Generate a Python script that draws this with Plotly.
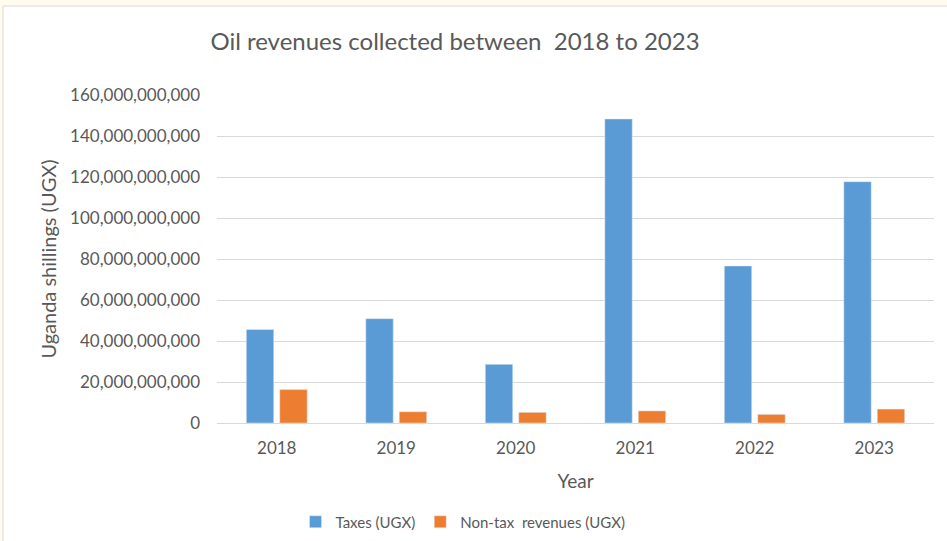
import plotly.graph_objects as go

years = ["2018", "2019", "2020", "2021", "2022", "2023"]
taxes = [45.6e9, 50.9e9, 28.6e9, 148.3e9, 76.6e9, 117.7e9]
non_tax = [16.3e9, 5.5e9, 5.2e9, 5.9e9, 4.2e9, 6.8e9]
y_ticks = [0, 20e9, 40e9, 60e9, 80e9, 100e9, 120e9, 140e9, 160e9]
y_tick_text = ["0", "20,000,000,000", "40,000,000,000", "60,000,000,000",
               "80,000,000,000", "100,000,000,000", "120,000,000,000",
               "140,000,000,000", "160,000,000,000"]

W, H = 947, 541
L, R, T, B = 217, 13, 95, 118
pw = W - L - R
ph = H - T - B

font_fam = "Lato, 'Open Sans', sans-serif"
gray = "#595959"

fig = go.Figure()
fig.add_trace(go.Bar(x=years, y=taxes, name="Taxes (UGX)", marker_color="#5B9BD5"))
fig.add_trace(go.Bar(x=years, y=non_tax, name="Non-tax  revenues (UGX)", marker_color="#ED7D31"))

# white chart area on a cream page
fig.add_shape(type="rect", xref="paper", yref="paper",
              x0=(3 - L) / pw, x1=(W + 5 - L) / pw,
              y0=(H - B - (H + 5)) / ph, y1=(H - B - 6) / ph,
              fillcolor="white", line=dict(color="#D9D9D9", width=1), layer="below")

fig.update_layout(
    width=W, height=H,
    margin=dict(l=L, r=R, t=T, b=B),
    paper_bgcolor="#FFFCEE",
    plot_bgcolor="rgba(0,0,0,0)",
    barmode="group",
    bargap=0.44,
    bargroupgap=0.18,
    font=dict(family=font_fam, color=gray, size=16),
    title=dict(text="Oil revenues collected between  2018 to 2023",
               x=455 / W, xanchor="center", y=1 - 42 / H, yanchor="middle",
               font=dict(size=24, color=gray, family=font_fam)),
    xaxis=dict(title=dict(text="Year", font=dict(size=19, color=gray), standoff=17),
               showline=True, linecolor="#D9D9D9", linewidth=1,
               tickfont=dict(size=17, color=gray), ticks="", showgrid=False,
               ticklabelstandoff=10),
    yaxis=dict(title=dict(text="Uganda shillings (UGX)", font=dict(size=20, color=gray), standoff=8),
               range=[0, 160e9], tickvals=y_ticks, ticktext=y_tick_text,
               tickfont=dict(size=17, color=gray),
               showgrid=True, gridcolor="#D9D9D9", gridwidth=1,
               zeroline=False, showline=False, ticks="", ticklabelstandoff=16),
    legend=dict(orientation="h", x=463 / W, xref="container", xanchor="center",
                y=1 - 522 / H, yref="container", yanchor="middle",
                font=dict(size=15, color=gray), bgcolor="rgba(0,0,0,0)",
                itemwidth=30, traceorder="normal"),
    showlegend=True,
)

fig.write_html("out.html", config={"displayModeBar": False},
               post_script="document.body.style.margin='0';document.body.style.padding='0';")
